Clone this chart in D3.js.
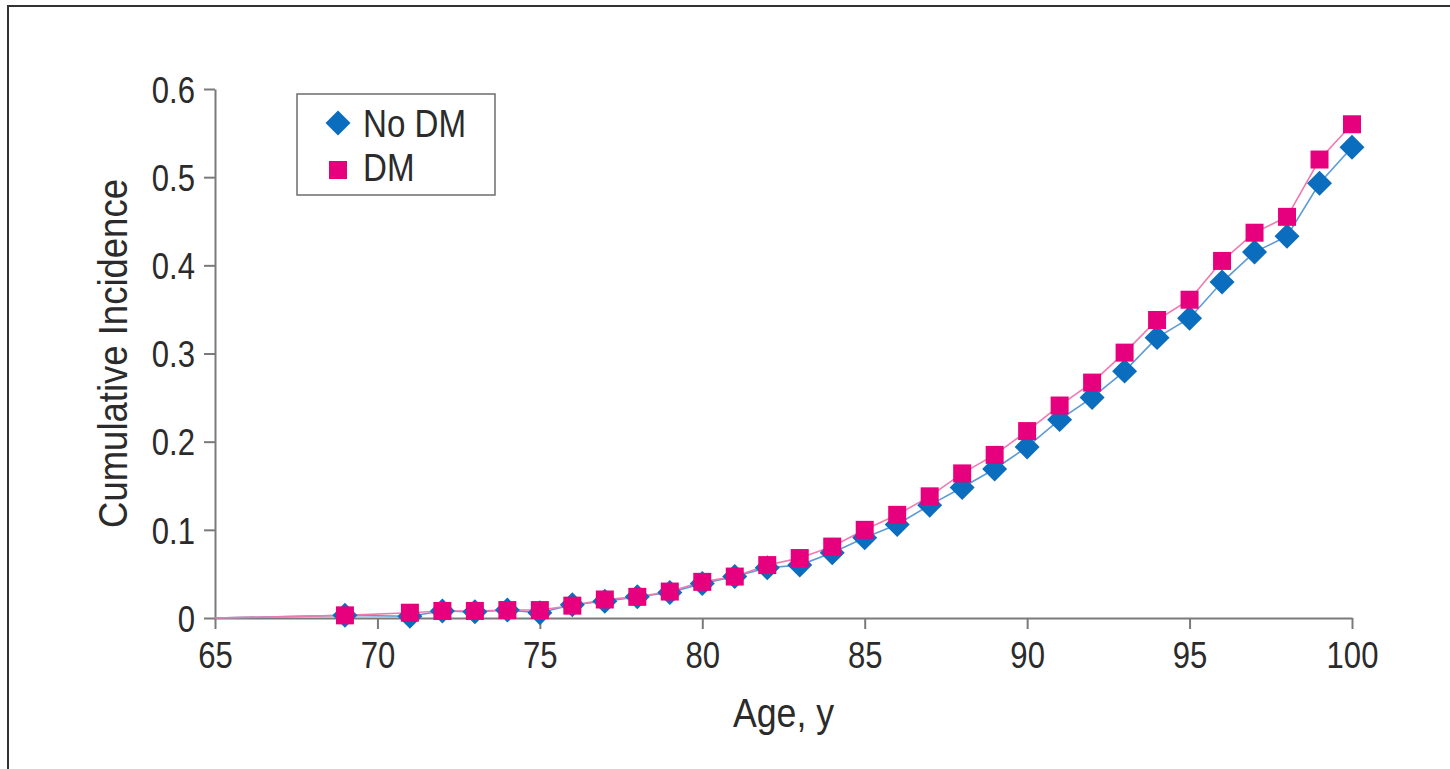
<!DOCTYPE html>
<html>
<head>
<meta charset="utf-8">
<script src="https://cdn.jsdelivr.net/npm/d3@7"></script>
<style>
  html, body { margin: 0; padding: 0; background: #fff; }
  svg { display: block; }
  text { font-family: "Liberation Sans Narrow", "Arial Narrow", "Liberation Sans", Arial, sans-serif; fill: #2b2b2b; }
</style>
</head>
<body>
<svg id="chart" width="1450" height="769"></svg>
<script>
// ---- data ----
const ages = [69, 71, 72, 73, 74, 75, 76, 77, 78, 79, 80, 81, 82, 83, 84, 85, 86, 87, 88, 89,
              90, 91, 92, 93, 94, 95, 96, 97, 98, 99, 100];
const noDM = [0.003, 0.002, 0.008, 0.007, 0.009, 0.006, 0.015, 0.019, 0.024, 0.029, 0.039,
              0.047, 0.057, 0.060, 0.074, 0.091, 0.106, 0.128, 0.148, 0.169, 0.194, 0.225,
              0.250, 0.280, 0.318, 0.340, 0.381, 0.415, 0.433, 0.493, 0.534];
const dm   = [0.003, 0.006, 0.008, 0.008, 0.009, 0.009, 0.014, 0.021, 0.024, 0.030, 0.041,
              0.047, 0.060, 0.068, 0.081, 0.100, 0.117, 0.138, 0.164, 0.185, 0.212, 0.241,
              0.267, 0.301, 0.338, 0.361, 0.405, 0.437, 0.455, 0.520, 0.560];
const lineStart = [65, 0];               // both lines start at age 65, value 0 (no marker)
const seriesNames = ["No DM", "DM"];
const xTicks = [65, 70, 75, 80, 85, 90, 95, 100];
const yTicks = [0, 0.1, 0.2, 0.3, 0.4, 0.5, 0.6];
const yTickLabels = ["0", "0.1", "0.2", "0.3", "0.4", "0.5", "0.6"];
const xTitle = "Age, y";
const yTitle = "Cumulative Incidence";

// ---- layout ----
const svg = d3.select("#chart");
const x = d3.scaleLinear().domain([65, 100]).range([215, 1352]);
const y = d3.scaleLinear().domain([0, 0.6]).range([618, 89]);

// condensed look: squeeze text horizontally, keeping it real text
function condense(sel, f) {
  sel.each(function () {
    const w = this.getComputedTextLength();
    d3.select(this).attr("textLength", w * f).attr("lengthAdjust", "spacingAndGlyphs");
  });
}

// outer frame (right and bottom edges off-canvas)
svg.append("rect").attr("x", 8).attr("y", 6).attr("width", 1500).attr("height", 800)
  .attr("fill", "none").attr("stroke", "#333").attr("stroke-width", 2);

// axes
const yAxis = d3.axisLeft(y).tickValues(yTicks).tickFormat((d, i) => yTickLabels[i])
  .tickSizeInner(11).tickSizeOuter(0).tickPadding(9);
const gy = svg.append("g").attr("transform", `translate(${x(65)},0)`).call(yAxis);
const xAxis = d3.axisBottom(x).tickValues(xTicks).tickFormat(d3.format("d"))
  .tickSizeInner(11).tickSizeOuter(0).tickPadding(13);
const gx = svg.append("g").attr("transform", `translate(0,${y(0)})`).call(xAxis);

[gx, gy].forEach(g => {
  g.select(".domain").attr("stroke", "#7a7a7a").attr("stroke-width", 2);
  g.selectAll(".tick line").attr("stroke", "#7a7a7a").attr("stroke-width", 2);
  g.selectAll(".tick text").attr("font-size", 37).attr("fill", "#2b2b2b")
    .style("font-family", '"Liberation Sans Narrow", "Arial Narrow", "Liberation Sans", sans-serif');
  condense(g.selectAll(".tick text"), 0.84);
});
gy.selectAll(".tick text").attr("dy", "0.36em");

// titles
const xt = svg.append("text").attr("x", x(82.5)).attr("y", 727).attr("text-anchor", "middle")
  .attr("font-size", 41).text(xTitle);
condense(xt, 0.87);
const yt = svg.append("text").attr("transform", `translate(127,${(180 + 527) / 2}) rotate(-90)`)
  .attr("text-anchor", "middle").attr("font-size", 41).text(yTitle);
condense(yt, 0.89);

// lines
const line = d3.line().x(d => x(d[0])).y(d => y(d[1]));
const ptsNo = [lineStart].concat(ages.map((a, i) => [a, noDM[i]]));
const ptsDm = [lineStart].concat(ages.map((a, i) => [a, dm[i]]));
svg.append("path").attr("d", line(ptsNo)).attr("fill", "none")
  .attr("stroke", "#5d9bd8").attr("stroke-width", 1.6);
svg.append("path").attr("d", line(ptsDm)).attr("fill", "none")
  .attr("stroke", "#f07aae").attr("stroke-width", 1.6);

// markers
const diamond = d3.symbol(d3.symbolSquare, 312);
const square = d3.symbol(d3.symbolSquare, 324);
svg.append("g").selectAll("path").data(ages).join("path")
  .attr("d", diamond)
  .attr("transform", (a, i) => `translate(${x(a)},${y(noDM[i])}) rotate(45)`)
  .attr("fill", "#0b6dbd");
svg.append("g").selectAll("path").data(ages).join("path")
  .attr("d", square)
  .attr("transform", (a, i) => `translate(${x(a)},${y(dm[i])})`)
  .attr("fill", "#e6007e");

// legend
const lg = svg.append("g");
lg.append("rect").attr("x", 297).attr("y", 94).attr("width", 198).attr("height", 101)
  .attr("fill", "#fff").attr("stroke", "#6e6e6e").attr("stroke-width", 1.5);
lg.append("path").attr("d", diamond).attr("transform", "translate(338,123) rotate(45)")
  .attr("fill", "#0b6dbd");
lg.append("path").attr("d", square).attr("transform", "translate(338,170)")
  .attr("fill", "#e6007e");
const lt = lg.selectAll("text.lab").data(seriesNames).join("text").attr("class", "lab")
  .attr("x", 363).attr("y", (d, i) => 137 + i * 44).attr("font-size", 39).text(d => d);
condense(lt, 0.85);
</script>
</body>
</html>
